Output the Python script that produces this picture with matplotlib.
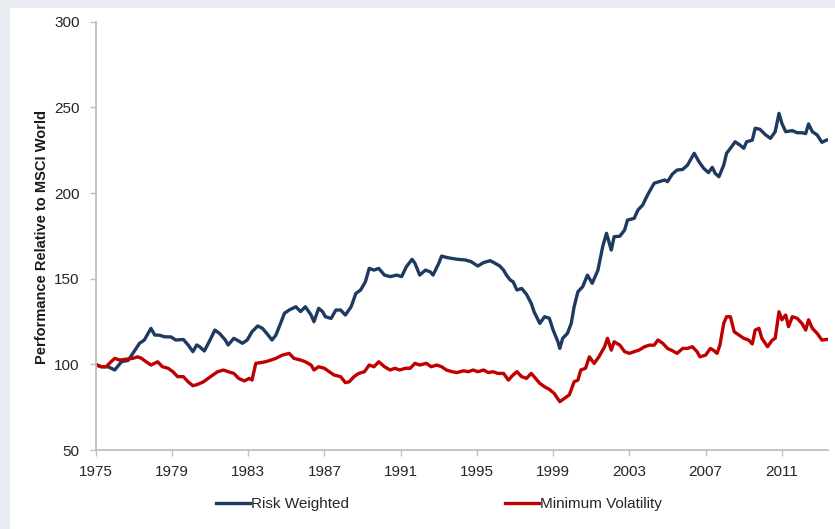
import matplotlib
matplotlib.use("Agg")
import matplotlib.pyplot as plt
from matplotlib.patches import Rectangle

plt.rcParams['font.family'] = ['Liberation Sans', 'DejaVu Sans']

# ---- data (decimal years) ----
risk_years = [1975.0, 1975.3, 1975.65, 1976.0, 1976.35, 1976.7, 1976.95, 1977.3, 1977.55, 1977.9,
              1978.1, 1978.35, 1978.6, 1978.95, 1979.2, 1979.6, 1979.85, 1980.1, 1980.3, 1980.45,
              1980.7, 1981.0, 1981.25, 1981.5, 1981.8, 1981.95, 1982.25, 1982.7, 1982.95, 1983.2,
              1983.5, 1983.75, 1984.0, 1984.25, 1984.45, 1984.7, 1984.9, 1985.15, 1985.5, 1985.75,
              1986.0, 1986.3, 1986.45, 1986.7, 1986.9, 1987.05, 1987.35, 1987.6, 1987.85, 1988.1,
              1988.4, 1988.65, 1988.9, 1989.15, 1989.35, 1989.6, 1989.85, 1990.15, 1990.45, 1990.8,
              1991.05, 1991.3, 1991.6, 1991.75, 1992.0, 1992.3, 1992.55, 1992.7, 1993.0, 1993.15,
              1993.4, 1993.7, 1994.0, 1994.4, 1994.7, 1995.05, 1995.35, 1995.7, 1995.95, 1996.2,
              1996.4, 1996.55, 1996.75, 1996.9, 1997.1, 1997.35, 1997.6, 1997.85, 1998.0, 1998.3,
              1998.55, 1998.8, 1999.0, 1999.25, 1999.35, 1999.5, 1999.75, 1999.95, 2000.1, 2000.3,
              2000.55, 2000.8, 2001.05, 2001.35, 2001.6, 2001.8, 2002.05, 2002.2, 2002.5, 2002.75,
              2002.9, 2003.25, 2003.45, 2003.7, 2003.95, 2004.3, 2004.55, 2004.85, 2005.0, 2005.25,
              2005.5, 2005.8, 2006.05, 2006.4, 2006.65, 2006.9, 2007.15, 2007.35, 2007.5, 2007.7,
              2007.95, 2008.1, 2008.3, 2008.55, 2008.8, 2009.0, 2009.15, 2009.45, 2009.6, 2009.85,
              2010.15, 2010.4, 2010.65, 2010.85, 2011.0, 2011.2, 2011.55, 2011.8, 2012.05, 2012.25,
              2012.4, 2012.6, 2012.85, 2013.1, 2013.35]
risk_values = [100.0, 98.6, 98.6, 96.7, 101.5, 102.3, 106.4, 112.3, 114.2, 121.0,
               117.1, 117.0, 116.1, 116.0, 114.2, 114.5, 111.3, 107.4, 111.3, 110.3,
               107.8, 114.2, 120.0, 118.0, 114.2, 111.3, 115.2, 112.3, 114.2, 119.0,
               122.4, 121.0, 117.7, 114.2, 117.0, 123.9, 129.8, 131.7, 133.6, 130.8,
               133.6, 128.8, 124.9, 132.7, 130.8, 127.8, 126.8, 131.7, 131.7, 128.8,
               133.6, 141.4, 143.4, 148.2, 156.0, 155.0, 156.0, 152.1, 151.2, 152.1,
               151.2, 157.0, 161.3, 159.0, 152.1, 155.0, 154.0, 152.1, 159.0, 163.2,
               162.4, 161.8, 161.3, 160.9, 159.9, 157.4, 159.4, 160.5, 159.0, 157.4,
               155.0, 152.1, 149.2, 148.2, 143.4, 144.3, 140.9, 135.6, 130.7, 123.9,
               127.8, 126.9, 120.0, 113.2, 109.3, 115.2, 118.1, 123.9, 133.6, 142.4,
               145.3, 152.1, 147.3, 155.0, 168.7, 176.5, 166.7, 174.5, 174.8, 178.4,
               184.2, 185.2, 190.1, 193.0, 198.8, 205.7, 206.6, 207.6, 206.6, 211.0,
               213.4, 213.8, 216.3, 223.2, 218.3, 214.4, 211.9, 215.0, 211.5, 209.5,
               216.3, 223.2, 226.1, 229.9, 228.0, 226.1, 229.9, 230.9, 237.8, 237.2,
               233.9, 231.9, 235.8, 246.5, 240.7, 235.8, 236.4, 235.2, 235.2, 234.7,
               240.3, 235.8, 233.9, 229.6, 230.9]

minvol_years = [1975.0, 1975.3, 1975.55, 1975.8, 1976.0, 1976.25, 1976.6, 1976.95, 1977.2, 1977.4,
                1977.65, 1977.9, 1978.25, 1978.5, 1978.8, 1979.05, 1979.3, 1979.6, 1979.85, 1980.1,
                1980.35, 1980.65, 1980.9, 1981.15, 1981.4, 1981.7, 1981.95, 1982.25, 1982.5, 1982.8,
                1983.05, 1983.2, 1983.4, 1983.65, 1983.9, 1984.2, 1984.45, 1984.8, 1985.15, 1985.4,
                1985.75, 1986.0, 1986.3, 1986.45, 1986.7, 1987.0, 1987.25, 1987.5, 1987.85, 1988.1,
                1988.3, 1988.55, 1988.8, 1989.1, 1989.35, 1989.6, 1989.85, 1990.15, 1990.45, 1990.7,
                1990.95, 1991.25, 1991.5, 1991.75, 1992.0, 1992.35, 1992.6, 1992.9, 1993.15, 1993.4,
                1993.7, 1993.95, 1994.3, 1994.55, 1994.8, 1995.05, 1995.35, 1995.6, 1995.85, 1996.1,
                1996.4, 1996.65, 1996.9, 1997.1, 1997.35, 1997.6, 1997.85, 1998.0, 1998.3, 1998.55,
                1998.8, 1999.05, 1999.35, 1999.6, 1999.85, 2000.1, 2000.3, 2000.45, 2000.7, 2000.9,
                2001.15, 2001.4, 2001.7, 2001.85, 2002.05, 2002.2, 2002.5, 2002.75, 2003.0, 2003.25,
                2003.5, 2003.8, 2004.05, 2004.3, 2004.5, 2004.75, 2005.0, 2005.25, 2005.5, 2005.8,
                2006.05, 2006.3, 2006.55, 2006.7, 2007.0, 2007.25, 2007.4, 2007.6, 2007.75, 2007.95,
                2008.1, 2008.3, 2008.5, 2008.75, 2009.0, 2009.25, 2009.45, 2009.6, 2009.8, 2009.95,
                2010.25, 2010.5, 2010.65, 2010.85, 2011.0, 2011.2, 2011.35, 2011.55, 2011.8, 2012.05,
                2012.25, 2012.4, 2012.6, 2012.85, 2013.1, 2013.35]
minvol_values = [99.6, 98.6, 98.6, 101.5, 103.5, 102.5, 103.0, 103.5, 104.4, 103.5,
                 101.5, 99.6, 101.5, 98.6, 97.7, 95.7, 92.8, 92.8, 89.8, 87.5,
                 88.3, 89.8, 91.8, 93.8, 95.7, 96.7, 95.7, 94.7, 91.8, 90.3,
                 91.8, 90.8, 100.6, 101.0, 101.5, 102.5, 103.5, 105.4, 106.4, 103.5,
                 102.5, 101.5, 99.6, 96.7, 98.6, 97.7, 95.7, 93.8, 92.8, 89.3,
                 89.8, 92.8, 94.7, 95.7, 99.6, 98.6, 101.5, 98.6, 96.7, 97.7,
                 96.7, 97.7, 97.7, 100.6, 99.6, 100.6, 98.6, 99.6, 98.6, 96.7,
                 95.7, 95.2, 96.2, 95.7, 96.7, 95.7, 96.7, 95.2, 95.7, 94.7,
                 94.7, 90.8, 93.8, 95.7, 92.8, 91.8, 94.7, 92.8, 88.9, 86.9,
                 85.4, 83.1, 78.2, 80.2, 82.2, 89.8, 90.8, 96.7, 97.7, 104.4,
                 100.5, 104.4, 110.3, 115.2, 108.3, 113.2, 111.2, 107.4, 106.4, 107.4,
                 108.3, 110.3, 111.2, 111.2, 114.2, 112.3, 109.3, 108.0, 106.4, 109.3,
                 109.3, 110.3, 107.4, 104.4, 105.4, 109.3, 108.3, 106.4, 111.3, 123.9,
                 127.8, 127.8, 119.0, 117.1, 115.2, 114.2, 111.9, 120.0, 121.0, 115.2,
                 110.3, 114.2, 115.2, 130.7, 126.0, 128.8, 122.0, 127.8, 126.9, 123.9,
                 120.0, 126.0, 121.0, 118.1, 114.2, 114.5]

x_ticks = [1975, 1979, 1983, 1987, 1991, 1995, 1999, 2003, 2007, 2011]
y_ticks = [50, 100, 150, 200, 250, 300]
series_names = ["Risk Weighted", "Minimum Volatility"]

# ---- figure ----
W, H = 835, 529
fig = plt.figure(figsize=(W / 100, H / 100), dpi=100)
fig.patch.set_facecolor("white")
band = "#E9ECF2"
fig.patches.append(Rectangle((0, 1 - 8 / H), 1, 8 / H, transform=fig.transFigure,
                             facecolor=band, edgecolor="none", zorder=0))
fig.patches.append(Rectangle((0, 0), 10 / W, 1, transform=fig.transFigure,
                             facecolor=band, edgecolor="none", zorder=0))

left, right, bottom, top = 95.7, 828.3, 450.0, 21.7
ax = fig.add_axes([left / W, 1 - bottom / H, (right - left) / W, (bottom - top) / H])
ax.set_facecolor("none")

ax.plot(risk_years, risk_values, color="#1F3A60", lw=2.4, label=series_names[0],
        solid_joinstyle="round")
ax.plot(minvol_years, minvol_values, color="#C00000", lw=2.4, label=series_names[1],
        solid_joinstyle="round")

ax.set_xlim(1975, 1975 + (right - left) / 19.06)
ax.set_ylim(50, 300)
ax.set_xticks(x_ticks)
ax.set_xticklabels([str(t) for t in x_ticks])
ax.set_yticks(y_ticks)

for s in ["top", "right"]:
    ax.spines[s].set_visible(False)
for s in ["left", "bottom"]:
    ax.spines[s].set_color("#BFBFBF")
    ax.spines[s].set_linewidth(1.3)

ax.tick_params(axis="both", direction="out", length=4.5, width=1.0, color="#BFBFBF",
               labelsize=11, labelcolor="#262626")
ax.tick_params(axis="y", pad=7)
ax.tick_params(axis="x", pad=6)

fig.text(42 / W, 1 - 237.5 / H, "Performance Relative to MSCI World", rotation=90,
         ha="center", va="center", fontsize=10.5, fontweight="bold", color="#1a1a1a")

leg = fig.legend(loc="center", bbox_to_anchor=(0.526, 1 - 504 / H), ncol=2, frameon=False,
                 fontsize=11, handlelength=2.2, handletextpad=0.1, columnspacing=10.2)
for t in leg.get_texts():
    t.set_color("#262626")

fig.savefig("out.png", dpi=100)
